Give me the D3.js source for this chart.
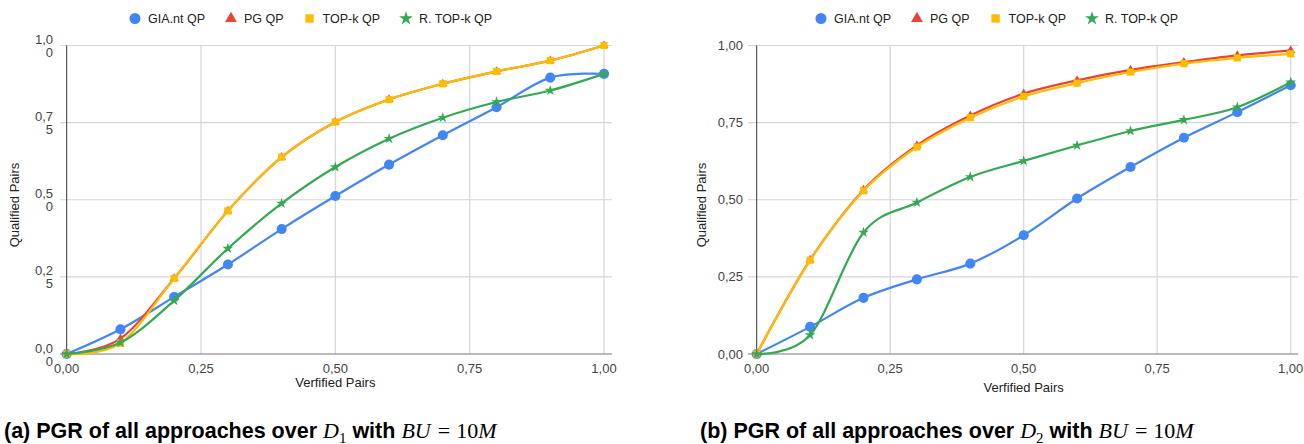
<!DOCTYPE html>
<html>
<head>
<meta charset="utf-8">
<script src="https://cdn.jsdelivr.net/npm/d3@7"></script>
<style>
  body { margin: 0; background: #fff; }
  svg { display: block; }
</style>
</head>
<body>
<svg width="1304" height="444"></svg>
<script>
// verified pairs share on the x axis
var xValues = [0, 0.1, 0.2, 0.3, 0.4, 0.5, 0.6, 0.7, 0.8, 0.9, 1.0];
var seriesNames = ["GIA.nt QP", "PG QP", "TOP-k QP", "R. TOP-k QP"];
var seriesColors = ["#4285f4", "#ea4335", "#fbbc04", "#34a853"];

// D1
var giant1 = [0, 0.08, 0.185, 0.29, 0.405, 0.512, 0.614, 0.709, 0.80, 0.896, 0.908];
var pg1 = [0, 0.05, 0.245, 0.464, 0.638, 0.752, 0.825, 0.876, 0.916, 0.951, 1.0];
var topk1 = [0, 0.035, 0.245, 0.464, 0.638, 0.752, 0.825, 0.876, 0.916, 0.951, 1.0];
var rtopk1 = [0, 0.037, 0.173, 0.342, 0.488, 0.606, 0.698, 0.766, 0.817, 0.854, 0.908];

// D2
var giant2 = [0, 0.088, 0.182, 0.242, 0.293, 0.385, 0.504, 0.606, 0.701, 0.784, 0.871];
var pg2 = [0, 0.305, 0.532, 0.676, 0.773, 0.844, 0.887, 0.921, 0.946, 0.968, 0.984];
var topk2 = [0, 0.304, 0.529, 0.671, 0.766, 0.835, 0.878, 0.914, 0.941, 0.960, 0.973];
var rtopk2 = [0, 0.0615, 0.394, 0.491, 0.574, 0.626, 0.676, 0.723, 0.759, 0.800, 0.881];

var ticks = [0, 0.25, 0.5, 0.75, 1];
var xTickLabels = ["0,00", "0,25", "0,50", "0,75", "1,00"];
var yTickLabels1 = [["0,0", "0"], ["0,2", "5"], ["0,5", "0"], ["0,7", "5"], ["1,0", "0"]];
var yTickLabels2 = [["0,00"], ["0,25"], ["0,50"], ["0,75"], ["1,00"]];

var svg = d3.select("svg");
var font = "'Liberation Sans', Arial, sans-serif";
var mathFont = "'Liberation Serif', 'DejaVu Serif', serif";

var symbols = [d3.symbolCircle, d3.symbolTriangle, d3.symbolSquare, d3.symbolStar];
var markSizes = [80, 34, 52, 36];
var legendSizes = [95, 60, 70, 60];

var drawChart = function(cfg){
  var g = svg.append("g");
  var x = d3.scaleLinear().domain([0, 1]).range(cfg.xRange);
  var y = d3.scaleLinear().domain([0, 1]).range([354, 45.5]);

  g.selectAll(".hgrid").data(ticks.slice(1)).join("line")
    .attr("x1", cfg.gridX[0]).attr("x2", cfg.gridX[1])
    .attr("y1", function(d){ return y(d) }).attr("y2", function(d){ return y(d) })
    .attr("stroke", "#d6d6d6").attr("stroke-width", 1.2);
  g.selectAll(".vgrid").data(ticks.slice(1)).join("line")
    .attr("x1", function(d){ return x(d) }).attr("x2", function(d){ return x(d) })
    .attr("y1", y(1)).attr("y2", y(0))
    .attr("stroke", "#d6d6d6").attr("stroke-width", 1.2);
  g.append("line")
    .attr("x1", cfg.gridX[0]).attr("x2", cfg.gridX[1])
    .attr("y1", y(0)).attr("y2", y(0))
    .attr("stroke", "#777").attr("stroke-width", 1.2);
  g.append("line")
    .attr("x1", x(0)).attr("x2", x(0))
    .attr("y1", y(1)).attr("y2", y(0))
    .attr("stroke", "#333").attr("stroke-width", 1);

  // x tick labels
  g.selectAll(".xt").data(ticks).join("text")
    .attr("x", function(d){ return x(d) }).attr("y", 373)
    .attr("text-anchor", "middle")
    .attr("font-family", font).attr("font-size", 13).attr("fill", "#444")
    .text(function(d, i){ return xTickLabels[i] });

  // y tick labels (left chart wraps them onto two lines)
  ticks.forEach(function(t, i){
    var lines = cfg.yLabels[i];
    var t0 = g.append("text")
      .attr("text-anchor", "end")
      .attr("font-family", font).attr("font-size", 13).attr("fill", "#444");
    if (lines.length == 1) {
      t0.attr("x", cfg.yLabelX).attr("y", y(t) + 4.6).text(lines[0]);
    } else {
      t0.append("tspan").attr("x", cfg.yLabelX).attr("y", y(t) - 1.5).text(lines[0]);
      t0.append("tspan").attr("x", cfg.yLabelX).attr("y", y(t) + 11.5).text(lines[1]);
    }
  });

  // axis titles
  g.append("text")
    .attr("x", (cfg.xRange[0] + cfg.xRange[1]) / 2).attr("y", cfg.xTitleY)
    .attr("text-anchor", "middle")
    .attr("font-family", font).attr("font-size", 13).attr("fill", "#222")
    .text("Verfified Pairs");
  g.append("text")
    .attr("transform", "translate(" + cfg.yTitleX + ",205) rotate(-90)")
    .attr("text-anchor", "middle")
    .attr("font-family", font).attr("font-size", 13).attr("fill", "#222")
    .text("Qualified Pairs");

  // lines + markers
  var line = d3.line()
    .x(function(d, i){ return x(xValues[i]) })
    .y(function(d){ return y(d) })
    .curve(d3.curveCatmullRom.alpha(0));
  cfg.series.forEach(function(vals, s){
    g.append("path")
      .attr("d", line(vals))
      .attr("fill", "none")
      .attr("stroke", seriesColors[s]).attr("stroke-width", 2.2);
    g.selectAll(".m" + s).data(vals).join("path")
      .attr("transform", function(d, i){ return "translate(" + x(xValues[i]) + "," + y(d) + ")" })
      .attr("d", d3.symbol().type(symbols[s]).size(markSizes[s]))
      .attr("fill", seriesColors[s]);
  });

  // legend
  var lx = cfg.legendX;
  seriesNames.forEach(function(name, s){
    g.append("path")
      .attr("transform", "translate(" + lx + ",18.5)")
      .attr("d", d3.symbol().type(symbols[s]).size(legendSizes[s]))
      .attr("fill", seriesColors[s]);
    var tx = g.append("text")
      .attr("x", lx + 13).attr("y", 23)
      .attr("font-family", font).attr("font-size", 12.5).attr("fill", "#222")
      .text(name);
    lx = lx + 13 + tx.node().getComputedTextLength() + 26;
  });

  // caption, math parts in serif
  var cap = svg.append("text")
    .attr("x", cfg.captionX).attr("y", 438)
    .attr("font-family", font).attr("font-size", 21.5).attr("font-weight", "bold").attr("fill", "#000");
  var math = function(txt, italic, size){
    return cap.append("tspan")
      .attr("font-family", mathFont).attr("font-weight", "normal")
      .attr("font-style", italic ? "italic" : "normal")
      .attr("font-size", size || 22).text(txt);
  };
  cap.append("tspan").text(cfg.captionLetter + " PGR of all approaches over ");
  math("D", true);
  math(cfg.captionSub, false, 15).attr("dy", 4.5);
  cap.append("tspan").attr("dy", -4.5).text(" with");
  math("BU", true).attr("dx", 6);
  math("=", false).attr("dx", 7);
  math("10", false).attr("dx", 6);
  math("M", true);
};

drawChart({
  xRange: [66.7, 604], gridX: [60, 612], yLabelX: 53, yLabels: yTickLabels1,
  xTitleY: 387, yTitleX: 19, legendX: 135,
  series: [giant1, pg1, topk1, rtopk1],
  captionX: 4, captionLetter: "(a)", captionSub: "1"
});
drawChart({
  xRange: [756.7, 1290.7], gridX: [748, 1298], yLabelX: 743, yLabels: yTickLabels2,
  xTitleY: 392, yTitleX: 706, legendX: 821,
  series: [giant2, pg2, topk2, rtopk2],
  captionX: 700, captionLetter: "(b)", captionSub: "2"
});
</script>
</body>
</html>
